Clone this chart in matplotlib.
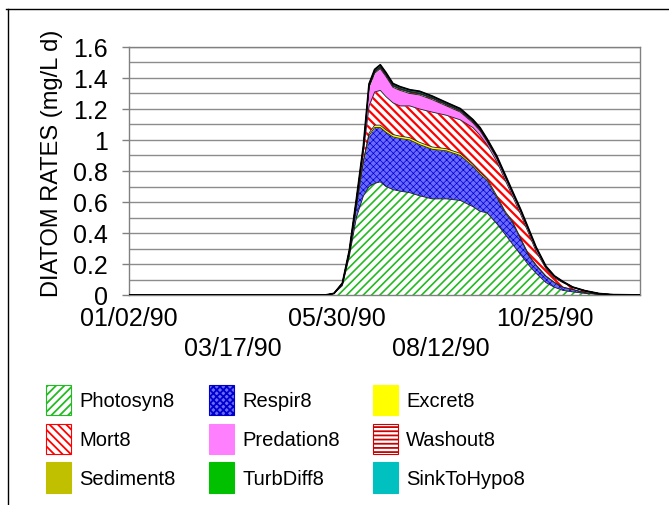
import datetime as dt
import numpy as np
import matplotlib
matplotlib.use("Agg")
import matplotlib.pyplot as plt
from matplotlib.patches import Patch
from matplotlib.lines import Line2D

plt.rcParams['font.family'] = ['Liberation Sans', 'DejaVu Sans']
plt.rcParams['hatch.linewidth'] = 1.5

# days after 01/02/90
day_offsets = [0, 140, 146, 152, 157, 162, 167, 171, 175, 179, 183, 188, 193, 200, 207,
               216, 226, 236, 245, 250, 255, 262, 268, 273, 279, 285, 290, 297, 303, 309,
               316, 325, 335, 345, 364]

photosyn = [0, 0, .01, .06, .25, .50, .64, .70, .72, .73, .70, .68, .67, .66, .64,
            .62, .62, .61, .57, .54, .53, .46, .39, .33, .26, .19, .14, .08, .05, .03,
            .02, .01, .003, 0, 0]
respir = [0, 0, 0, .01, .02, .07, .22, .33, .36, .35, .35, .34, .34, .34, .33,
          .32, .31, .29, .26, .24, .21, .17, .14, .14, .10, .06, .05, .04, .03, .02,
          .015, .005, .002, 0, 0]
excret = [0, 0, 0, 0, .002, .005, .01, .015, .016, .016, .016, .015, .015, .015, .015,
          .015, .014, .014, .013, .012, .012, .01, .009, .008, .006, .005, .004, .003, .002, .001,
          .001, 0, 0, 0, 0]
mort = [0, 0, 0, .005, .008, .025, .06, .175, .214, .224, .214, .205, .195, .205, .215,
        .225, .216, .216, .237, .238, .218, .22, .201, .162, .154, .135, .086, .047, .028, .029,
        .014, .01, .003, .002, 0]
predation = [0, 0, 0, .001, .005, .01, .02, .12, .12, .14, .13, .10, .10, .08, .09,
             .08, .06, .05, .03, .03, .02, .02, .02, .02, .02, .02, .02, .01, .01, .005,
             0, .002, .001, 0, 0]
washout = [0, 0, 0, 0, .001, .002, .004, .006, .008, .008, .008, .008, .008, .008, .008,
           .008, .007, .007, .007, .006, .006, .005, .005, .004, .004, .003, .003, .002, .001, .001,
           .001, 0, 0, 0, 0]
sediment = [0, 0, 0, 0, .001, .001, .002, .003, .003, .003, .003, .003, .003, .003, .003,
            .003, .003, .003, .003, .003, .002, .002, .002, .002, .002, .001, .001, .001, .001, 0,
            0, 0, 0, 0, 0]
turbdiff = [0, 0, 0, 0, 0, .001, .001, .002, .002, .002, .002, .002, .002, .002, .002,
            .002, .002, .002, .002, .002, .002, .002, .001, .001, .001, .001, .001, 0, 0, 0,
            0, 0, 0, 0, 0]
sinktohypo = [0, 0, 0, 0, .002, .004, .007, .010, .012, .012, .012, .011, .011, .011, .011,
              .010, .010, .010, .009, .009, .008, .007, .006, .005, .004, .004, .003, .002, .001, .001,
              0, 0, 0, 0, 0]

labels = ['Photosyn8', 'Respir8', 'Excret8', 'Mort8', 'Predation8', 'Washout8',
          'Sediment8', 'TurbDiff8', 'SinkToHypo8']
tick_labels = ['01/02/90', '03/17/90', '05/30/90', '08/12/90', '10/25/90']

start = dt.datetime(1990, 1, 2)
dates = [start + dt.timedelta(days=d) for d in day_offsets]

# (face colour, hatch, hatch colour, hatch linewidth)
styles = [
    ('white', '////', '#22bb22', 1.2),
    ('#6a6aff', 'xxxxx', '#0000cc', 0.5),
    ('#ffff00', None, '#ffff00', 1.0),
    ('white', '\\\\\\\\', '#ff0000', 1.6),
    ('#ff80ff', None, '#ff80ff', 1.0),
    ('white', '----', '#cc0000', 1.2),
    ('#c0c000', None, '#c0c000', 1.0),
    ('#00c000', None, '#00c000', 1.0),
    ('#00c0c0', None, '#00c0c0', 1.0),
]

series = [photosyn, respir, excret, mort, predation, washout, sediment, turbdiff, sinktohypo]


def hatch_width(artist, lw):
    # set the hatch line width whichever way this matplotlib reads it
    if hasattr(artist, 'set_hatch_linewidth'):
        artist.set_hatch_linewidth(lw)
    artist._hatch_linewidth = lw
    orig = artist.draw

    def draw(renderer):
        with plt.rc_context({'hatch.linewidth': lw}):
            orig(renderer)
    artist.draw = draw


fig = plt.figure(figsize=(6.69, 5.06), dpi=100)
ax = fig.add_axes([129 / 669, 1 - 296 / 506, 511 / 669, 248 / 506])

base = np.zeros(len(dates))
handles = []
for vals, lab, (fc, hatch, hc, hlw) in zip(series, labels, styles):
    top = base + np.array(vals)
    plt.rcParams['hatch.linewidth'] = hlw
    coll = ax.fill_between(dates, base, top, facecolor=fc, edgecolor=hc, hatch=hatch,
                           linewidth=0, zorder=2)
    hatch_width(coll, hlw)
    handles.append(Patch(facecolor=fc, edgecolor=hc, hatch=hatch, linewidth=0.8))
    ax.plot(dates, top, color='#202020', linewidth=0.6, zorder=3)
    base = top
ax.plot(dates, base, color='black', linewidth=1.3, zorder=4)
plt.rcParams['hatch.linewidth'] = 1.3

ax.set_xlim(start, start + dt.timedelta(days=364))
ax.set_ylim(0, 1.6)
ax.set_yticks(np.arange(0, 1.61, 0.2))
ax.set_yticklabels(['0', '0.2', '0.4', '0.6', '0.8', '1', '1.2', '1.4', '1.6'])
ax.set_yticks(np.arange(0.1, 1.6, 0.2), minor=True)
ax.tick_params(axis='y', which='major', direction='out', length=5, width=1,
               color='#808080', labelsize=18, pad=10)
ax.tick_params(axis='y', which='minor', length=0)
ax.yaxis.grid(True, which='both', color='#8c8c8c', linewidth=1)
ax.set_axisbelow(True)

xt = [start + dt.timedelta(days=74 * i) for i in range(len(tick_labels))]
ax.set_xticks(xt)
ax.set_xticklabels([t if i % 2 == 0 else '\n' + t for i, t in enumerate(tick_labels)])
ax.tick_params(axis='x', length=0, labelsize=18, pad=8)
for t in ax.get_xticklabels():
    t.set_linespacing(1.3)

for s in ax.spines.values():
    s.set_color('#808080')
    s.set_linewidth(1)

fig.text(52 / 669, 1 - 163 / 506, 'DIATOM RATES (mg/L d)', rotation=90,
         ha='center', va='center', fontsize=17)

order = [0, 3, 6, 1, 4, 7, 2, 5, 8]
fig.legend([handles[i] for i in order], [labels[i] for i in order], ncol=3,
           loc='upper left', bbox_to_anchor=(46 / 669, 1 - 386 / 506), frameon=False,
           fontsize=14.5, handlelength=1.25, handleheight=1.92, handletextpad=0.4,
           labelspacing=0.43, columnspacing=1.65, borderaxespad=0, borderpad=0)

# outer frame lines
fig.add_artist(Line2D([6 / 669, 1], [1 - 10 / 506] * 2, color='black', linewidth=1))
fig.add_artist(Line2D([8 / 669] * 2, [0, 1 - 10 / 506], color='black', linewidth=1))

fig.savefig('out.png', dpi=100)
